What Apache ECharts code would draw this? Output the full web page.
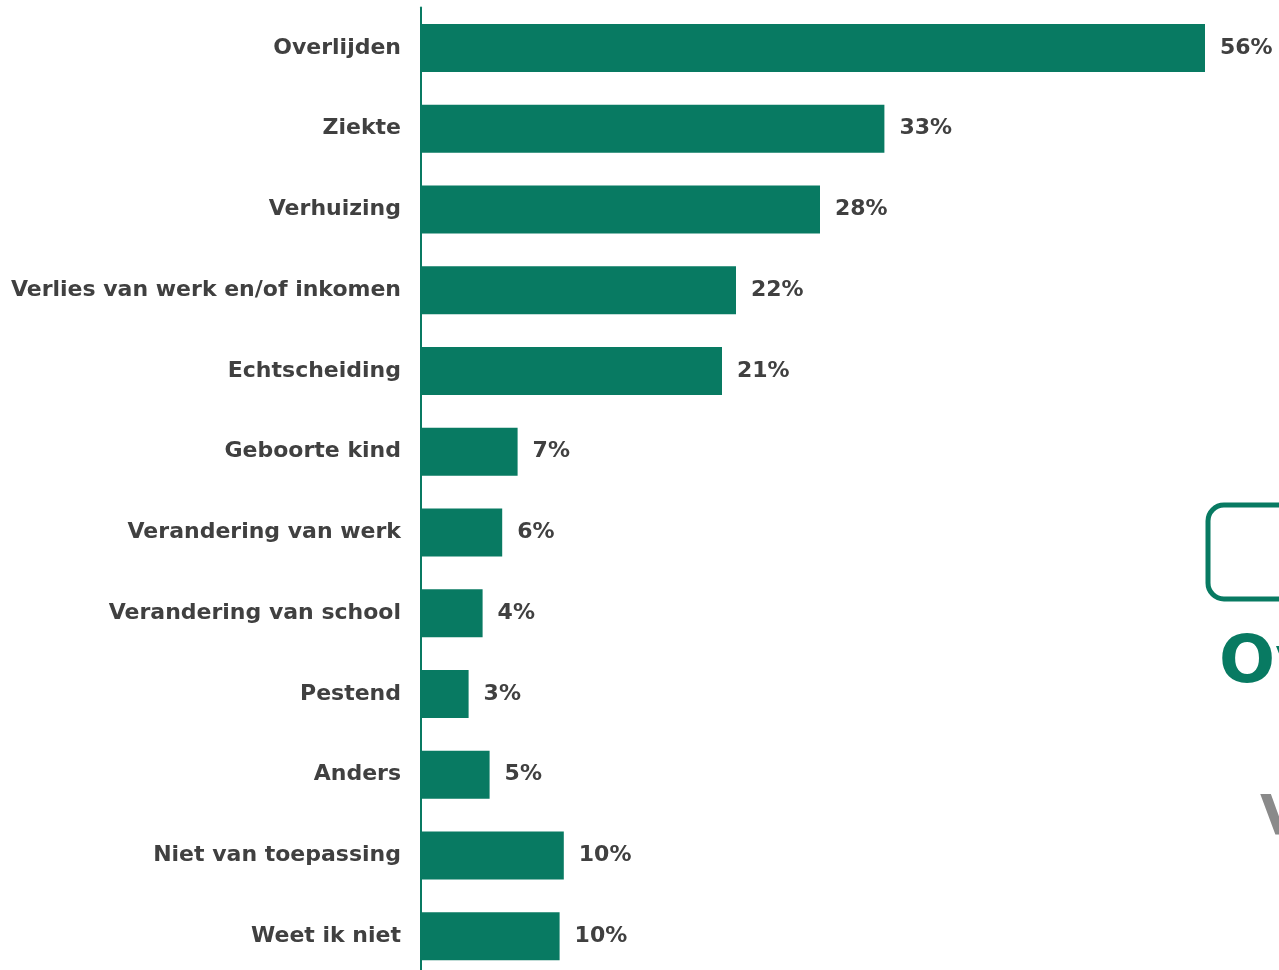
<!DOCTYPE html>
<html>
<head>
<meta charset="utf-8">
<script src="https://cdn.jsdelivr.net/npm/echarts@6/dist/echarts.min.js"></script>
<style>
html, body { margin: 0; padding: 0; background: #fff; overflow: hidden; }
#chart { width: 1279px; height: 990px; }
</style>
</head>
<body>
<div id="chart"></div>
<script>
// categories top to bottom
const categories = [
    'Overlijden', 'Ziekte', 'Verhuizing', 'Verlies van werk en/of inkomen',
    'Echtscheiding', 'Geboorte kind', 'Verandering van werk',
    'Verandering van school', 'Pestend', 'Anders', 'Niet van toepassing', 'Weet ik niet'
]
// bar lengths (%)
const values = [56, 33.1, 28.5, 22.5, 21.5, 6.9, 5.8, 4.4, 3.4, 4.9, 10.2, 9.9]
const labels = ['56%', '33%', '28%', '22%', '21%', '7%', '6%', '4%', '3%', '5%', '10%', '10%']

const green = '#087A62'
const textColor = '#404040'
const font = 'Verdana, "DejaVu Sans", sans-serif'

const chart = echarts.init(document.getElementById('chart'))
chart.setOption({
    animation: false,
    grid: {
        left: 421,
        width: 784,
        top: 7.5,
        height: 969
    },
    xAxis: {
        type: 'value',
        min: 0,
        max: 56,
        show: false
    },
    yAxis: {
        type: 'category',
        inverse: true,
        data: categories,
        axisLine: { show: true, lineStyle: { color: green, width: 2 } },
        axisTick: { show: false },
        axisLabel: {
            margin: 20,
            color: textColor,
            fontFamily: font,
            fontWeight: 'bold',
            fontSize: 22
        }
    },
    series: [{
        type: 'bar',
        data: values,
        barWidth: 48,
        itemStyle: { color: green },
        label: {
            show: true,
            position: 'right',
            distance: 15,
            color: textColor,
            fontFamily: font,
            fontWeight: 'bold',
            fontSize: 22,
            formatter: p => labels[p.dataIndex]
        }
    }],
    graphic: [
        {
            type: 'rect',
            shape: { x: 1208, y: 505, width: 120, height: 94, r: 16 },
            style: { fill: 'none', stroke: green, lineWidth: 5 }
        },
        {
            type: 'text',
            left: 1219,
            top: 632,
            style: { text: 'Ov', fill: green, font: 'bold 66px ' + font }
        },
        {
            type: 'text',
            left: 1260,
            top: 791,
            style: { text: 'V', fill: '#8a8a8a', font: 'bold 56px ' + font }
        }
    ]
})
</script>
</body>
</html>
